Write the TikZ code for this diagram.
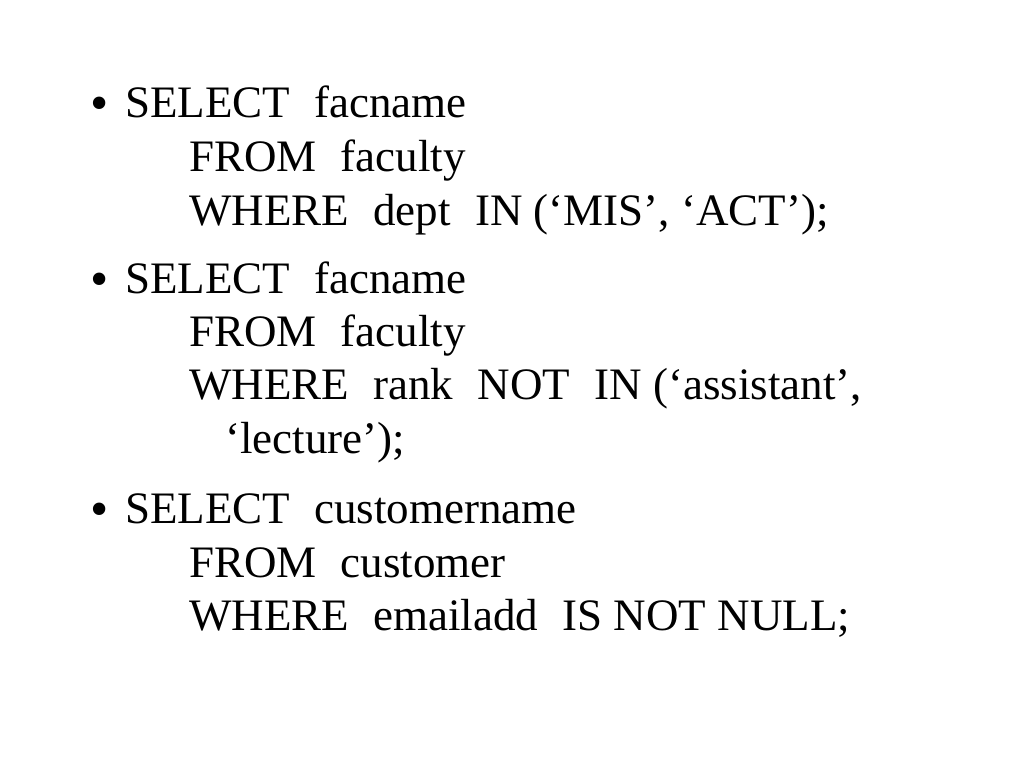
\documentclass[tikz,border=0pt]{standalone}
\usepackage{fontspec}
\setmainfont{Liberation Serif}
\newcommand{\gap}{\hspace{0.54em}}
\begin{document}
\begin{tikzpicture}
[
  x=1pt,y=-1pt,
	txt/.style={anchor=base west,inner sep=0pt},
	bul/.style={anchor=base west,inner sep=0pt,font=\fontsize{52}{60}\selectfont}
]
\tikzstyle{every node}=[font=\fontsize{45}{54}\selectfont]

\useasboundingbox[fill=white] (0,0) rectangle (1024,768);

% first query
\node[bul] (b1) at (90,120.5) {•};
\node[txt] (sel1) at (125,117) {SELECT\gap facname};
\node[txt] (from1) at (189,171.5) {FROM\gap faculty};
\node[txt] (where1) at (189,225.5) {WHERE\gap dept\gap IN (‘MIS’, ‘ACT’);};

% second query
\node[bul] (b2) at (90,296.5) {•};
\node[txt] (sel2) at (125,293) {SELECT\gap facname};
\node[txt] (from2) at (189,346) {FROM\gap faculty};
\node[txt] (where2) at (189,399.5) {WHERE\gap rank\gap NOT\gap IN (‘assistant’,};
\node[txt] (lect2) at (225,453.5) {‘lecture’);};

% third query
\node[bul] (b3) at (90,526.5) {•};
\node[txt] (sel3) at (125,523) {SELECT\gap customername};
\node[txt] (from3) at (189,577) {FROM\gap customer};
\node[txt] (where3) at (189,630.5) {WHERE\gap emailadd\gap IS NOT NULL;};

\end{tikzpicture}
\end{document}
